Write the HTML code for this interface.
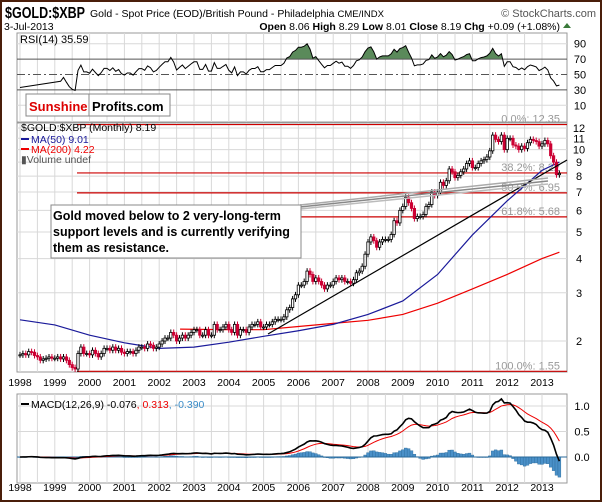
<!DOCTYPE html>
<html><head><meta charset="utf-8"><style>
html,body{margin:0;padding:0;background:#fff;}
#wrap{position:relative;width:602px;height:502px;overflow:hidden;font-family:"Liberation Sans",Arial,sans-serif;}
svg text{font-family:"Liberation Sans",Arial,sans-serif;}
</style></head><body>
<div id="wrap">
<svg id="svg" width="602" height="502" viewBox="0 0 602 502" xmlns="http://www.w3.org/2000/svg">
<rect x="1" y="1" width="600" height="500" fill="#fff" stroke="#4a1e0a" stroke-width="2"/>
<text x="5" y="18" font-size="16" font-weight="bold" fill="#000" textLength="80" lengthAdjust="spacingAndGlyphs">$GOLD:$XBP</text>
<text x="90" y="17" font-size="10.5" fill="#000">Gold - Spot Price (EOD)/British Pound - Philadelphia <tspan font-size="9.5">CME/INDX</tspan></text>
<text x="596" y="17" font-size="11" fill="#555" text-anchor="end">© StockCharts.com</text>
<text x="4" y="30" font-size="10.5" fill="#000">3-Jul-2013</text>
<text x="560" y="30" font-size="10.5" fill="#000" text-anchor="end"><tspan font-weight="bold">Open</tspan> 8.06 <tspan font-weight="bold">High</tspan> 8.29 <tspan font-weight="bold">Low</tspan> 8.01 <tspan font-weight="bold">Close</tspan> 8.19 <tspan font-weight="bold">Chg</tspan> +0.09 (+1.08%)</text>
<polygon points="563,28 567,23 571,28" fill="#3a7a3a"/>
<g id="grid"></g>
<g id="rsi"></g>
<g id="main"></g>
<g id="macd"></g>
<g id="axes"></g>
</svg>
</div>
<script>
// ---- data ----
const closes = [
1.78,1.80,1.78,1.83,1.82,1.77,1.75,1.70,1.72,1.73,1.75,1.73,
1.73,1.75,1.72,1.75,1.70,1.64,1.60,1.58,1.80,1.90,1.80,1.80,
1.78,1.85,1.80,1.75,1.80,1.88,1.88,1.85,1.90,1.85,1.88,1.82,
1.80,1.83,1.83,1.80,1.85,1.90,1.90,1.88,1.95,1.93,1.88,1.90,
1.95,2.00,2.05,2.05,2.15,2.10,2.00,2.05,2.10,2.05,2.10,2.15,
2.20,2.20,2.10,2.10,2.20,2.10,2.10,2.30,2.20,2.20,2.25,2.30,
2.20,2.15,2.30,2.10,2.20,2.20,2.15,2.25,2.30,2.30,2.35,2.25,
2.25,2.30,2.30,2.35,2.40,2.40,2.40,2.45,2.60,2.65,2.85,2.95,
3.20,3.20,3.30,3.60,3.50,3.30,3.40,3.30,3.20,3.10,3.20,3.20,
3.30,3.40,3.35,3.40,3.30,3.30,3.25,3.35,3.55,3.60,3.75,4.15,
4.60,4.80,4.65,4.40,4.60,4.70,4.70,4.70,4.90,5.50,5.40,6.00,
6.20,6.70,6.40,6.10,5.60,5.70,5.70,5.80,6.20,6.30,7.00,6.80,
7.00,7.60,7.40,7.70,8.50,8.30,7.90,8.05,8.30,8.50,8.90,9.10,
8.60,8.60,8.90,9.10,9.20,9.40,9.90,11.30,10.90,10.70,11.30,10.00,
11.00,11.00,10.40,10.30,10.00,10.30,10.10,10.60,10.90,10.80,10.70,10.30,
10.50,10.80,10.50,9.50,9.00,8.10,8.19];
const ma50Years = [1998,1999,2000,2001,2002,2003,2004,2005,2006,2007,2008,2009,2010,2011,2012,2013,2013.5];
const ma50Vals  = [2.39,2.29,2.10,1.97,1.88,1.90,1.98,2.08,2.18,2.30,2.50,2.80,3.50,4.88,6.50,8.40,9.01];
const ma200Years = [2002.6,2004,2005,2006,2007,2008,2009,2010,2011,2012,2013,2013.5];
const ma200Vals  = [2.21,2.20,2.20,2.26,2.32,2.38,2.50,2.75,3.10,3.50,4.00,4.22];
const fibLevels = [12.35,8.22,6.95,5.68,1.55];
const fibLabels = ["0.0%: 12.35","38.2%: 8.22","50.0%: 6.95","61.8%: 5.68","100.0%: 1.55"];
const priceTicks = [2,3,4,5,6,7,8,9,10,11,12];
const rsiTicks = [10,30,50,70,90];
const macdTicks = [0.0,0.5,1.0];
const years = [1998,1999,2000,2001,2002,2003,2004,2005,2006,2007,2008,2009,2010,2011,2012,2013];

// ---- scales ----
const L=17,R=567;
const xm = m => 20 + m*2.9;
const xy = yr => xm((yr-1998)*12);
const yP = v => 341 - 118.9*Math.log(v/2);
const yR = v => 113 - 0.77*v;
const yM = v => 457 - 51*v;
const NS="http://www.w3.org/2000/svg";
function mk(parent,tag,attrs){const e=document.createElementNS(NS,tag);for(const k in attrs)e.setAttribute(k,attrs[k]);document.getElementById(parent).appendChild(e);return e;}

const panels=[[33,122,'rsi-panel'],[123,372,'price-panel'],[394,483,'macd-panel']];
panels.forEach(p=>{const r=mk('grid','rect',{x:L,y:p[0],width:R-L,height:p[1]-p[0],fill:'#fff',stroke:'#999','stroke-width':1});

});
for(let k=0;k<31;k++){const x=xm(k*6);if(x>R)break;panels.forEach(p=>{const l=mk('grid','line',{x1:x,x2:x,y1:p[0],y2:p[1],stroke:'#d8d8d8','stroke-width':1});

});}
priceTicks.forEach(v=>{const l=mk('grid','line',{x1:L,x2:R,y1:yP(v),y2:yP(v),stroke:'#d8d8d8'});

});
[10,90].forEach(v=>{const l=mk('grid','line',{x1:L,x2:R,y1:yR(v),y2:yR(v),stroke:'#d8d8d8'});

});
[0.5,1.0].forEach(v=>{const l=mk('grid','line',{x1:L,x2:R,y1:yM(v),y2:yM(v),stroke:'#d8d8d8'});

});

// ---- RSI ----
let ag=0,al=0;const rsi=[];
for(let i=1;i<closes.length;i++){const d=closes[i]-closes[i-1];const g=Math.max(d,0),lo=Math.max(-d,0);
 if(i<=14){ag+=g/14;al+=lo/14;}else{ag=(ag*13+g)/14;al=(al*13+lo)/14;}
 if(i>=14) rsi.push([i, al===0?100:100-100/(1+ag/al)]);}
// early months: shown from start of chart using first computed value
rsi.unshift([0, rsi[0][1]-8]);
const rsiPts=rsi.map(p=>xm(p[0]).toFixed(1)+','+yR(Math.min(99,Math.max(1,p[1]))).toFixed(1)).join(' ');
const defs=mk('rsi','defs',{});
const cp=document.createElementNS(NS,'clipPath');cp.setAttribute('id','above70');defs.appendChild(cp);
const cr=document.createElementNS(NS,'rect');cr.setAttribute('x',L);cr.setAttribute('y',33);cr.setAttribute('width',R-L);cr.setAttribute('height',yR(70)-33);cp.appendChild(cr);
const fill=mk('rsi','polygon',{points:xm(rsi[0][0])+','+yR(70)+' '+rsiPts+' '+xm(rsi[rsi.length-1][0])+','+yR(70),fill:'#5a8a5a','clip-path':'url(#above70)'});


[[70,'none','rsi-70-line'],[30,'none','rsi-30-line'],[50,'8,3,2,3','rsi-50-line']].forEach(a=>{const l=mk('rsi','line',{x1:L,x2:R,y1:yR(a[0]),y2:yR(a[0]),stroke:'#555','stroke-dasharray':a[1]});

});
const rl=mk('rsi','polyline',{points:rsiPts,fill:'none',stroke:'#000','stroke-width':1});



// ---- main price ----
fibLevels.forEach((v,i)=>{const l=mk('main','line',{x1:77,x2:R,y1:yP(v),y2:yP(v),stroke:'#cc0000','stroke-width':1.2});


const t=mk('main','text',{x:560,y:yP(v)-2,'font-size':11,fill:'#999','text-anchor':'end'});t.textContent=fibLabels[i];

});
const m200=mk('main','polyline',{points:ma200Years.map((y,i)=>xy(y)+','+yP(ma200Vals[i])).join(' '),fill:'none',stroke:'#ee0000','stroke-width':1.2});


const m50=mk('main','polyline',{points:ma50Years.map((y,i)=>xy(y)+','+yP(ma50Vals[i])).join(' '),fill:'none',stroke:'#1a1a9a','stroke-width':1.2});


closes.forEach((c,i)=>{const o=i?closes[i-1]:c;const x=xm(i);const up=c>=o;
 const hi=Math.max(o,c)*1.025,lo=Math.min(o,c)*0.975;
 const w=mk('main','line',{x1:x,x2:x,y1:yP(hi),y2:yP(lo),stroke:up?'#000':'#cc0033'});
 
 
 const top=yP(Math.max(o,c)),bot=yP(Math.min(o,c));
 const b=mk('main','rect',{x:x-1.2,y:top,width:2.4,height:Math.max(1,bot-top),fill:up?'#fff':'#cc0033',stroke:up?'#000':'#cc0033','stroke-width':0.8});
 
 });
const tl=mk('main','line',{x1:268,y1:334,x2:R,y2:160,stroke:'#000','stroke-width':1.2});


[[205,178,'#aaa'],[207,181,'#888'],[209,184,'#bbb']].forEach((a,i)=>{const l=mk('main','line',{x1:300,y1:a[0],x2:548,y2:a[1],stroke:a[2],'stroke-width':1.5});

});

// ---- MACD ----
function ema(arr,n){const k=2/(n+1);const o=[];arr.forEach((v,i)=>o.push(i?v*k+o[i-1]*(1-k):v));return o;}
const e12=ema(closes,12),e26=ema(closes,26);const macd=closes.map((v,i)=>e12[i]-e26[i]);const sig=ema(macd,9);
macd.forEach((v,i)=>{const h=v-sig[i];const y0=yM(0),y1=yM(h);
 const b=mk('macd','rect',{x:xm(i)-1.45,y:Math.min(y0,y1),width:2.9,height:Math.max(0.5,Math.abs(y1-y0)),fill:'#4a90c8',stroke:'#2a6a9a','stroke-width':0.4});
 
 });
const z=mk('macd','line',{x1:L,x2:R,y1:yM(0),y2:yM(0),stroke:'#2a6a9a'});


const sl=mk('macd','polyline',{points:sig.map((v,i)=>xm(i)+','+yM(v)).join(' '),fill:'none',stroke:'#ee0000','stroke-width':1});


const ml=mk('macd','polyline',{points:macd.map((v,i)=>xm(i)+','+yM(v)).join(' '),fill:'none',stroke:'#000','stroke-width':1.6});



// ---- axes labels ----
priceTicks.forEach(v=>{const t=mk('axes','text',{x:579,y:yP(v)+4,'font-size':11,'text-anchor':'middle'});t.textContent=v;

});
rsiTicks.forEach(v=>{const t=mk('axes','text',{x:580,y:yR(v)+4,'font-size':11,'text-anchor':'middle'});t.textContent=v;

});
macdTicks.forEach(v=>{const t=mk('axes','text',{x:582,y:yM(v)+4,'font-size':11,'text-anchor':'middle'});t.textContent=v.toFixed(1);

});
years.forEach(yr=>{[386,491].forEach(yy=>{const t=mk('axes','text',{x:xy(yr),y:yy,'font-size':10.5,'text-anchor':'middle'});t.textContent=yr;

});});
</script>
<svg width="602" height="502" style="position:absolute;left:0;top:0" xmlns="http://www.w3.org/2000/svg">
<text x="20" y="43" font-size="11" fill="#000">RSI(14) 35.59</text>
<rect x="26" y="94" width="144" height="22" fill="#fff" stroke="#888"/>
<line x1="89" y1="94" x2="89" y2="116" stroke="#888"/>
<text x="29" y="111" font-size="13" font-weight="bold" fill="#dd0000">Sunshine</text>
<text x="92" y="111" font-size="13" font-weight="bold" fill="#000">Profits.com</text>
<text x="21" y="131" font-size="10.5" fill="#000">$GOLD:$XBP (Monthly) 8.19</text>
<line x1="21" y1="139" x2="29" y2="139" stroke="#1a1a9a" stroke-width="2"/>
<text x="31" y="143" font-size="10.5" fill="#1a1a9a">MA(50) 9.01</text>
<line x1="21" y1="149" x2="29" y2="149" stroke="#ee0000" stroke-width="2"/>
<text x="31" y="153" font-size="10.5" fill="#ee0000">MA(200) 4.22</text>
<text x="21" y="163" font-size="10.5" fill="#555">▮Volume undef</text>
<rect x="51" y="205" width="250" height="53" fill="#fff" stroke="#888"/>
<text x="53" y="220" font-size="12.5" font-weight="bold" fill="#000"><tspan x="53">Gold moved below to 2 very-long-term</tspan><tspan x="53" dy="16">support levels and is currently verifying</tspan><tspan x="53" dy="16">them as resistance.</tspan></text>
<line x1="21" y1="404" x2="29" y2="404" stroke="#000" stroke-width="2"/>
<text x="31" y="408" font-size="10.5">MACD(12,26,9) -0.076<tspan fill="#ee0000">, 0.313</tspan><tspan fill="#3a8cc8">, -0.390</tspan></text>
</svg>
</body></html>
